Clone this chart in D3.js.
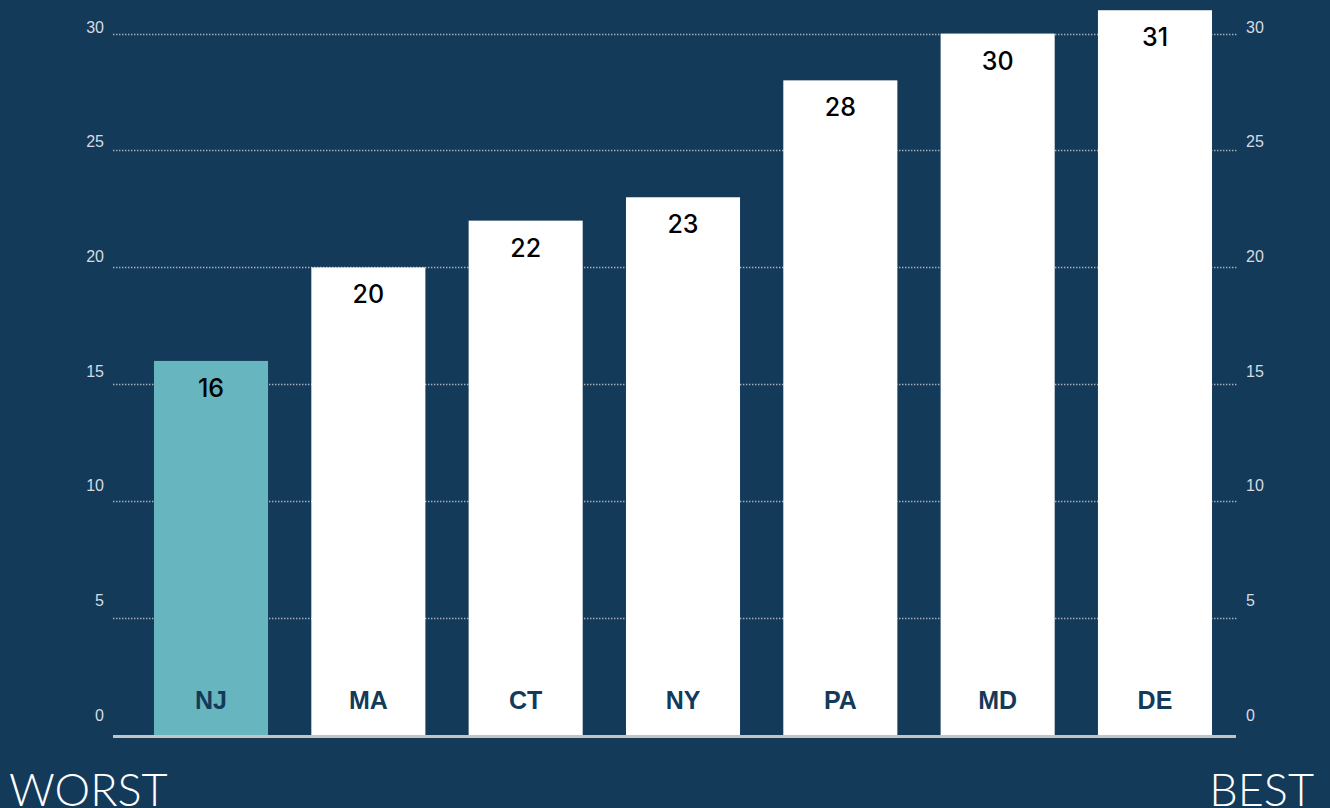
<!DOCTYPE html>
<html><head><meta charset="utf-8">
<script src="https://cdn.jsdelivr.net/npm/d3@7"></script>
<style>
html,body{margin:0;padding:0;background:#143a5a;}
svg{display:block;}
</style></head>
<body><svg id="c" width="1330" height="808"></svg>
<script>
const categories = ["NJ","MA","CT","NY","PA","MD","DE"];
const values = [16,20,22,23,28,30,31];
const highlight = ["NJ"];
const tickValues = [0,5,10,15,20,25,30];
const endLabels = ["WORST","BEST"];

const W = 1330, H = 808;
const svg = d3.select("#c");
svg.append("rect").attr("width",W).attr("height",H).attr("fill","#143a5a");

const x = d3.scaleBand().domain(categories).range([132.35,1233.65]).paddingInner(0.275).paddingOuter(0.1375);
const y = d3.scaleLinear().domain([0,30]).range([735,33.6]);
// tick labels sit on their own slightly compressed scale in the reference
const yLab = d3.scaleLinear().domain([0,30]).range([715,27]);

const font = "'Helvetica Neue', Helvetica, 'Liberation Sans', Arial, sans-serif";

// gridlines
const grid = svg.append("g");
grid.selectAll("line").data(tickValues.filter(d=>d>0)).join("line")
  .attr("x1",113).attr("x2",1238)
  .attr("y1",d=>Math.round(y(d))+0.5).attr("y2",d=>Math.round(y(d))+0.5)
  .attr("stroke","#aab3bd").attr("stroke-width",1.3).attr("stroke-dasharray","1.4,1.6");

// left axis
const left = d3.axisLeft(yLab).tickValues(tickValues).tickSize(0).tickPadding(0);
const gl = svg.append("g").attr("transform","translate(104,0)").call(left);
gl.select(".domain").remove();
gl.selectAll("text").attr("fill","#d5dbe2").style("font-family",font).style("font-size","16px");

const right = d3.axisRight(yLab).tickValues(tickValues).tickSize(0).tickPadding(0);
const gr = svg.append("g").attr("transform","translate(1246,0)").call(right);
gr.select(".domain").remove();
gr.selectAll("text").attr("fill","#d5dbe2").style("font-family",font).style("font-size","16px");

// bars
svg.append("g").selectAll("rect").data(categories).join("rect")
  .attr("x",d=>x(d)).attr("width",x.bandwidth())
  .attr("y",(d,i)=>y(values[i])).attr("height",(d,i)=>y(0)-y(values[i]))
  .attr("fill",d=>highlight.includes(d)?"#67b5bf":"#ffffff");

// baseline
svg.append("rect").attr("x",113).attr("y",735).attr("width",1123).attr("height",3).attr("fill","#c4c4c4");

// value labels
svg.append("g").selectAll("text").data(categories).join("text")
  .attr("x",d=>x(d)+x.bandwidth()/2).attr("y",(d,i)=>y(values[i])+36)
  .attr("text-anchor","middle").attr("fill","#000")
  .style("font-family","Inter, " + font).style("font-size","25px").style("font-weight","500")
  .text((d,i)=>values[i]);

// category labels
svg.append("g").selectAll("text").data(categories).join("text")
  .attr("x",d=>x(d)+x.bandwidth()/2).attr("y",709)
  .attr("text-anchor","middle").attr("fill","#143a5a")
  .style("font-family",font).style("font-size","25px").style("font-weight","bold")
  .text(d=>d);

// end labels
const endFont = "Lato, 'Open Sans', " + font;
svg.append("text").attr("x",9).attr("y",806).attr("fill","#fff")
  .style("font-family",endFont).style("font-size","45px").style("font-weight","300").text(endLabels[0]);
svg.append("text").attr("x",1314).attr("y",806).attr("text-anchor","end").attr("fill","#fff")
  .style("font-family",endFont).style("font-size","45px").style("font-weight","300").text(endLabels[1]);
</script></body></html>
